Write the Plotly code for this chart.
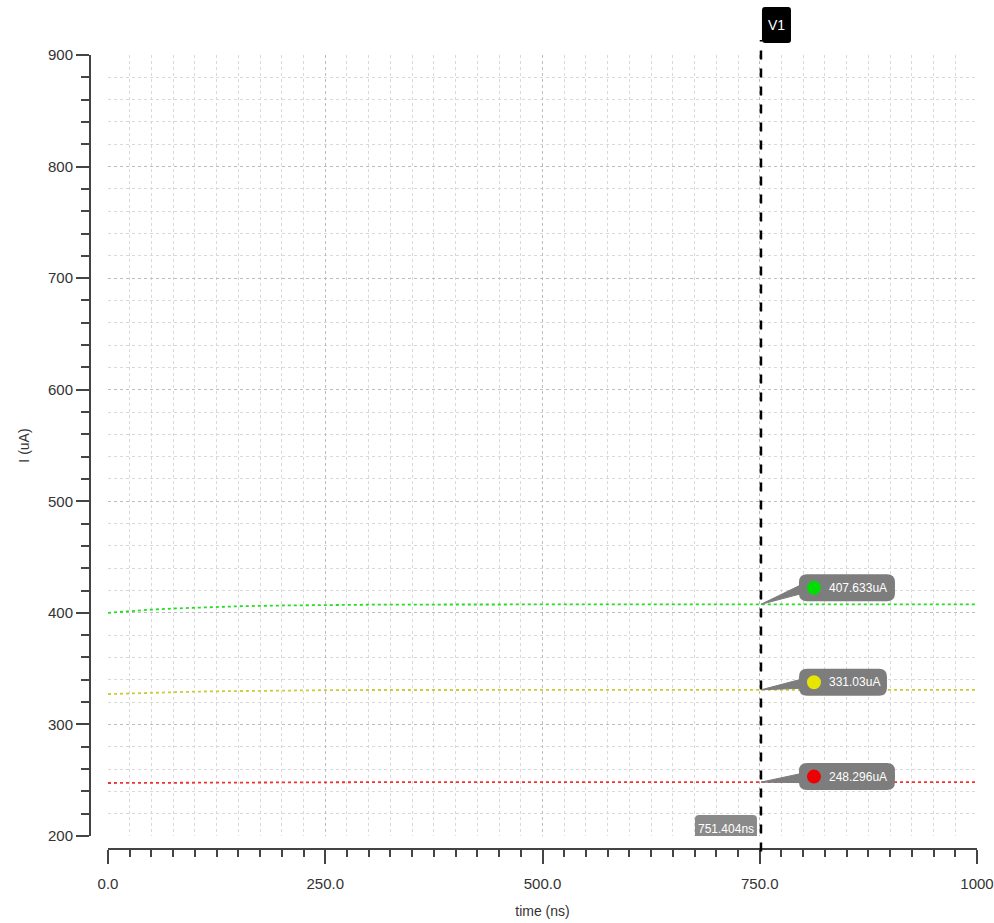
import plotly.graph_objects as go

# ---- data ----
time_ns = [0, 25, 50, 75, 100, 125, 150, 200, 250, 300, 400, 500, 600, 700, 751.404, 800, 900, 1000]
green_uA = [400.0, 401.6, 402.9, 403.9, 404.7, 405.4, 405.9, 406.6, 407.0, 407.3, 407.5, 407.6,
            407.62, 407.63, 407.633, 407.633, 407.633, 407.633]
yellow_uA = [327.2, 327.9, 328.5, 329.0, 329.4, 329.7, 330.0, 330.4, 330.7, 330.85, 330.95, 331.0,
             331.02, 331.03, 331.03, 331.03, 331.03, 331.03]
red_uA = [247.5, 247.6, 247.7, 247.8, 247.9, 248.0, 248.05, 248.15, 248.2, 248.25, 248.28, 248.29,
          248.295, 248.296, 248.296, 248.296, 248.296, 248.296]

x_tickvals = [0, 250, 500, 750, 1000]
x_ticktext = ["0.0", "250.0", "500.0", "750.0", "1000"]
y_tickvals = [200, 300, 400, 500, 600, 700, 800, 900]
y_ticktext = ["200", "300", "400", "500", "600", "700", "800", "900"]

cursor_ns = 751.404
cursor_name = "V1"
cursor_label = "751.404ns"
marker_values = [407.633, 331.03, 248.296]
marker_labels = ["407.633uA", "331.03uA", "248.296uA"]

colors = ["#22dd22", "#cccc33", "#ee3333"]
dot_colors = ["#00dd00", "#e6e600", "#ee0000"]
series = [green_uA, yellow_uA, red_uA]

FONT = "Liberation Sans Narrow, Liberation Sans, Arial, sans-serif"
BOX = "#7d7d7d"

fig = go.Figure()
for vals, col in zip(series, colors):
    fig.add_trace(go.Scatter(x=time_ns, y=vals, mode="lines",
                             line=dict(color=col, width=1.8, dash="dot"),
                             showlegend=False, hoverinfo="skip"))

W, H = 994, 923
ml, mr, mt, mb = 90, 17, 55, 74
pw = W - ml - mr
ph = H - mt - mb

fig.update_layout(
    width=W, height=H,
    margin=dict(l=ml, r=mr, t=mt, b=mb, pad=0, autoexpand=False),
    paper_bgcolor="white", plot_bgcolor="white",
    font=dict(family=FONT, size=15, color="#333333"),
    xaxis=dict(
        domain=[18 / pw, 1], range=[0, 1000], anchor="free", position=0,
        automargin=False, ticklabeloverflow="allow", ticklabelstandoff=7,
        tickvals=x_tickvals, ticktext=x_ticktext,
        showline=True, linecolor="#444444", linewidth=2,
        ticks="outside", ticklen=14, tickwidth=1.5, tickcolor="#444444",
        showgrid=True, gridcolor="#bdbdbd", gridwidth=1, griddash="dot",
        zeroline=False,
        minor=dict(dtick=25, tick0=0, ticks="outside", ticklen=7, tickwidth=1.5,
                   tickcolor="#444444", showgrid=True, gridcolor="#d9d9d9",
                   griddash="dot", gridwidth=1),
        title=dict(text="time (ns)", font=dict(size=14, family=FONT), standoff=14),
        tickfont=dict(size=15, family=FONT),
    ),
    yaxis=dict(
        domain=[13 / ph, 1], range=[200, 900], anchor="free", position=0,
        automargin=False, ticklabeloverflow="allow",
        tickvals=y_tickvals, ticktext=y_ticktext,
        showline=True, linecolor="#444444", linewidth=2,
        ticks="outside", ticklen=13, tickwidth=1.5, tickcolor="#444444",
        showgrid=True, gridcolor="#bdbdbd", gridwidth=1, griddash="dot",
        zeroline=False,
        minor=dict(dtick=20, tick0=200, ticks="outside", ticklen=8, tickwidth=1.5,
                   tickcolor="#444444", showgrid=True, gridcolor="#d9d9d9",
                   griddash="dot", gridwidth=1),
        title=dict(text="I (uA)", font=dict(size=14, family=FONT), standoff=14),
        tickfont=dict(size=15, family=FONT),
    ),
)


def rrect(x0, x1, y0, y1, r, top_only=False):
    """rounded rectangle path in pixel offsets (y up)."""
    if top_only:
        return (f"M{x0},{y0} L{x0},{y1 - r} Q{x0},{y1} {x0 + r},{y1} L{x1 - r},{y1} "
                f"Q{x1},{y1} {x1},{y1 - r} L{x1},{y0} Z")
    return (f"M{x0 + r},{y0} L{x1 - r},{y0} Q{x1},{y0} {x1},{y0 + r} L{x1},{y1 - r} "
            f"Q{x1},{y1} {x1 - r},{y1} L{x0 + r},{y1} Q{x0},{y1} {x0},{y1 - r} "
            f"L{x0},{y0 + r} Q{x0},{y0} {x0 + r},{y0} Z")


# cursor line
fig.add_shape(type="line", xref="x", yref="paper", x0=cursor_ns, x1=cursor_ns,
              y0=-0.003, y1=(H - mb - 40) / ph,
              line=dict(color="black", width=2.5, dash="dash"))

# cursor name box at top
fig.add_shape(type="path", xref="x", yref="paper", xsizemode="pixel", ysizemode="pixel",
              xanchor=cursor_ns, yanchor=1.0,
              path=rrect(1, 30, 12, 48, 3), fillcolor="black", line=dict(width=0))
fig.add_annotation(x=cursor_ns, xref="x", y=1.0, yref="paper", yanchor="middle",
                   xanchor="center", xshift=15.5, yshift=30,
                   text=cursor_name, showarrow=False,
                   font=dict(color="white", size=14, family=FONT))

# cursor value box at bottom
fig.add_shape(type="path", xref="x", yref="y", xsizemode="pixel", ysizemode="pixel",
              xanchor=cursor_ns, yanchor=200,
              path=rrect(-66, -4, -7, 21, 4, top_only=True), fillcolor="#8a8a8a",
              line=dict(width=0))
fig.add_annotation(x=cursor_ns, xref="x", y=200, yref="y", xanchor="center", yanchor="middle",
                   xshift=-35, yshift=7, text=cursor_label, showarrow=False,
                   font=dict(color="white", size=12, family=FONT))

# marker callouts
yoffs = [16.5, 7.5, 5.5]   # box centre offset above the point (px)
widths = [96, 88, 96]
for val, lab, dc, yo, w in zip(marker_values, marker_labels, dot_colors, yoffs, widths):
    x0, x1 = 38, 38 + w
    y0, y1 = yo - 13.5, yo + 13.5
    fig.add_shape(type="path", xref="x", yref="y", xsizemode="pixel", ysizemode="pixel",
                  xanchor=cursor_ns, yanchor=val,
                  path=f"M0,0 L{x0 + 2},{yo + 3} L{x0 + 2},{yo - 6} Z",
                  fillcolor=BOX, line=dict(color=BOX, width=1))
    fig.add_shape(type="path", xref="x", yref="y", xsizemode="pixel", ysizemode="pixel",
                  xanchor=cursor_ns, yanchor=val,
                  path=rrect(x0, x1, y0, y1, 8), fillcolor=BOX, line=dict(width=0))
    fig.add_shape(type="circle", xref="x", yref="y", xsizemode="pixel", ysizemode="pixel",
                  xanchor=cursor_ns, yanchor=val,
                  x0=46, x1=60, y0=yo - 7, y1=yo + 7, fillcolor=dc, line=dict(width=0))
    fig.add_annotation(x=cursor_ns, y=val, xref="x", yref="y", xanchor="left",
                       yanchor="middle", xshift=66, yshift=yo, text=lab, showarrow=False,
                       font=dict(color="white", size=12, family=FONT))

fig.write_html("out.html", config={"displayModeBar": False},
               post_script="document.body.style.margin='0';")
